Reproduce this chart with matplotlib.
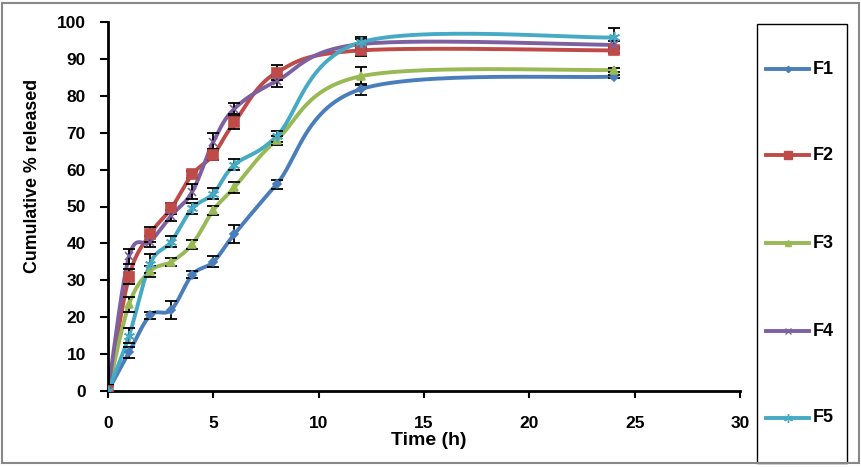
import numpy as np
import matplotlib.pyplot as plt
from matplotlib.patches import Rectangle

time_h = [0, 1, 2, 3, 4, 5, 6, 8, 12, 24]

f1 = [0, 10.5, 20.5, 22, 31.5, 35, 42.5, 56, 81.8, 85.2]
f2 = [0, 31, 42.5, 49.5, 58.7, 64, 72.8, 86.3, 92.3, 92.3]
f3 = [0, 23.5, 32.5, 35, 39.8, 49, 55.2, 68, 85.3, 87]
f4 = [0, 36.5, 40.5, 47.5, 54, 67.5, 76.5, 84, 94, 93.8]
f5 = [0, 15, 34.5, 40.5, 49.5, 53.5, 61.3, 69, 94.5, 95.8]

f1_err = [1.5, 1.5, 1, 2.5, 1, 1.5, 2.5, 1.2, 1.5, 0.5]
f2_err = [1.5, 2, 2, 1.5, 1, 1.5, 1.8, 2, 1.5, 0.8]
f3_err = [1.5, 2, 1.5, 1, 1.2, 1.2, 1.5, 1.2, 2.5, 0.5]
f4_err = [1.5, 2, 1.5, 1.5, 2, 2.5, 1.5, 1.5, 1.5, 1]
f5_err = [1.5, 2, 2.5, 1.5, 1.5, 1.5, 1.5, 1.5, 1.5, 2.5]

names = ['F1', 'F2', 'F3', 'F4', 'F5']
series = [f1, f2, f3, f4, f5]
errors = [f1_err, f2_err, f3_err, f4_err, f5_err]
colors = ['#4A7EBB', '#BE4B48', '#98B954', '#7D60A0', '#46AAC5']
markers = ['D', 's', '^', 'x', (6, 2, 0)]
msizes = [4, 7, 6, 6, 8]


def smooth(x, y, n=30):
    # excel-like smoothed line: bezier segments with catmull-rom control points
    x = np.asarray(x, float)
    y = np.asarray(y, float)
    px = np.concatenate([[x[0]], x, [x[-1]]])
    py = np.concatenate([[y[0]], y, [y[-1]]])
    xs, ys = [], []
    t = np.linspace(0, 1, n)
    for i in range(1, len(px) - 2):
        p0 = np.array([px[i], py[i]])
        p3 = np.array([px[i + 1], py[i + 1]])
        c1 = p0 + (np.array([px[i + 1], py[i + 1]]) - np.array([px[i - 1], py[i - 1]])) / 6
        c2 = p3 - (np.array([px[i + 2], py[i + 2]]) - np.array([px[i], py[i]])) / 6
        b = ((1 - t) ** 3)[:, None] * p0 + (3 * (1 - t) ** 2 * t)[:, None] * c1 \
            + (3 * (1 - t) * t ** 2)[:, None] * c2 + (t ** 3)[:, None] * p3
        xs.extend(b[:, 0])
        ys.extend(b[:, 1])
    return xs, ys


fig = plt.figure(figsize=(8.62, 4.67), dpi=100)
ax = fig.add_axes([108 / 862, 1 - 391 / 467, (740 - 108) / 862, (391 - 22) / 467])

for name, y, e, c, m, ms in zip(names, series, errors, colors, markers, msizes):
    ax.errorbar(time_h, y, yerr=e, fmt='none', ecolor='black', elinewidth=1.3,
                capsize=4, capthick=1.3, zorder=3)
    sx, sy = smooth(time_h, y)
    ax.plot(sx, sy, color=c, lw=2.8, zorder=2, solid_capstyle='round')
    ax.plot(time_h, y, ls='none', marker=m, ms=ms, color=c, mec=c, mew=1.2, zorder=4)

ax.set_xlim(0, 30)
ax.set_ylim(0, 100)
ax.set_xticks(range(0, 31, 5))
ax.set_yticks(range(0, 101, 10))
for s in ['top', 'right']:
    ax.spines[s].set_visible(False)
for s in ['left', 'bottom']:
    ax.spines[s].set_linewidth(2)
ax.tick_params(axis='y', direction='out', length=6, width=1.5, labelsize=12.5, pad=10)
ax.tick_params(axis='x', direction='out', length=5, width=1.5, labelsize=12.5, pad=13)
for lab in ax.get_xticklabels() + ax.get_yticklabels():
    lab.set_fontweight('bold')
    lab.set_family('Liberation Sans')
ax.set_xlabel('Time (h)', fontsize=14, fontweight='bold', family='Liberation Sans')
ax.set_ylabel('Cumulative % released', fontsize=12.8, fontweight='bold',
              family='Liberation Sans')
ax.xaxis.set_label_coords(0.508, -0.112)
ax.yaxis.set_label_coords(-0.106, 0.583)

# legend box drawn by hand on the right
fig.patches.append(Rectangle((757 / 862, 1 - 463 / 467), 90 / 862, 439 / 467,
                             transform=fig.transFigure, fill=False, ec='black', lw=1))
fig.patches.append(Rectangle((2 / 862, 1 - 463 / 467), 857 / 862, 460 / 467,
                             transform=fig.transFigure, fill=False, ec='#888888', lw=1.5))
leg_y = [69, 155, 243, 331, 418]
for name, c, m, ms, yy in zip(names, colors, markers, msizes, leg_y):
    fy = 1 - yy / 467
    fig.add_artist(plt.Line2D([766 / 862, 809 / 862], [fy, fy], color=c, lw=2.8,
                              transform=fig.transFigure))
    fig.add_artist(plt.Line2D([788 / 862], [fy], color=c, marker=m, ms=ms * 0.8,
                              transform=fig.transFigure))
    fig.text(813 / 862, fy, name, fontsize=13, fontweight='bold', family='Liberation Sans',
             va='center', ha='left')

fig.savefig('out.png', dpi=100)
